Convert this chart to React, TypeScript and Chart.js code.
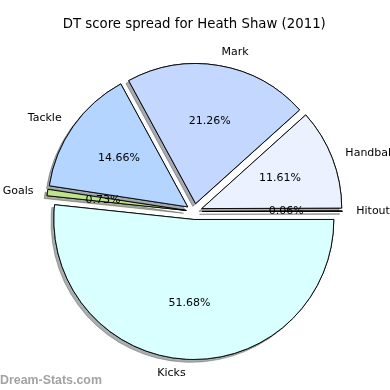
import { useEffect, useRef } from 'react';
import { Chart, registerables } from 'chart.js';

Chart.register(...registerables);

// Slices listed clockwise starting from the east (3 o'clock) direction
const categories = ['Kicks', 'Goals', 'Tackle', 'Mark', 'Handball', 'Hitout'];
const shares = [51.68, 0.73, 14.66, 21.26, 11.61, 0.06];
const sliceColors = ['#d9ffff', '#bfe38a', '#b4d5ff', '#c4d8ff', '#ebf1ff', '#f2f2f2'];
const chartTitle = 'DT score spread for Heath Shaw (2011)';
const watermark = 'Dream-Stats.com';

const EXPLODE = 8;
const SHADOW = 2.8;
const FONT = '"DejaVu Sans", sans-serif';

function shadowOf(hex: string): string {
  const n = parseInt(hex.slice(1), 16);
  const r = Math.round(((n >> 16) & 255) * 0.3);
  const g = Math.round(((n >> 8) & 255) * 0.3);
  const b = Math.round((n & 255) * 0.3);
  return `rgba(${r},${g},${b},0.45)`;
}

const explodePlugin = {
  id: 'explodeShadow',
  beforeDatasetsDraw(chart: any) {
    const ctx = chart.ctx as CanvasRenderingContext2D;
    const arcs = chart.getDatasetMeta(0).data as any[];
    const shift = (arc: any) => {
      const p = arc.getProps(['startAngle', 'endAngle'], true);
      const mid = (p.startAngle + p.endAngle) / 2;
      return [Math.cos(mid) * EXPLODE, Math.sin(mid) * EXPLODE];
    };
    // pass 1: wedges with shadows
    arcs.forEach((arc, i) => {
      const [dx, dy] = shift(arc);
      ctx.save();
      ctx.translate(dx, dy);
      ctx.shadowColor = shadowOf(sliceColors[i]);
      ctx.shadowOffsetX = -SHADOW;
      ctx.shadowOffsetY = SHADOW;
      ctx.shadowBlur = 0;
      arc.draw(ctx);
      ctx.restore();
    });
    // pass 2: wedges on top of all shadows
    arcs.forEach((arc) => {
      const [dx, dy] = shift(arc);
      ctx.save();
      ctx.translate(dx, dy);
      arc.draw(ctx);
      ctx.restore();
    });
    return false;
  },
  afterDraw(chart: any) {
    const ctx = chart.ctx as CanvasRenderingContext2D;
    const arcs = chart.getDatasetMeta(0).data as any[];
    ctx.save();
    ctx.fillStyle = '#000';
    ctx.font = `11px ${FONT}`;
    ctx.textBaseline = 'middle';
    arcs.forEach((arc, i) => {
      const p = arc.getProps(['x', 'y', 'startAngle', 'endAngle', 'outerRadius'], true);
      const mid = (p.startAngle + p.endAngle) / 2;
      const cx = p.x + Math.cos(mid) * EXPLODE;
      const cy = p.y + Math.sin(mid) * EXPLODE;
      const r = p.outerRadius;
      const lx = cx + Math.cos(mid) * r * 1.1;
      const ly = cy + Math.sin(mid) * r * 1.1;
      ctx.textAlign = Math.cos(mid) > 0 ? 'left' : 'right';
      ctx.fillText(categories[i], lx, ly);
      const px = cx + Math.cos(mid) * r * 0.6;
      const py = cy + Math.sin(mid) * r * 0.6;
      ctx.textAlign = 'center';
      ctx.fillText(`${shares[i].toFixed(2)}%`, px, py);
    });
    ctx.fillStyle = '#a3a3a3';
    ctx.font = `bold 12.4px "Liberation Sans", Arial, sans-serif`;
    ctx.textAlign = 'left';
    ctx.textBaseline = 'alphabetic';
    ctx.fillText(watermark, 0, 384);
    ctx.restore();
  },
};

export default function App() {
  const ref = useRef<HTMLCanvasElement | null>(null);
  useEffect(() => {
    if (!ref.current) return;
    const chart = new Chart(ref.current, {
      type: 'pie',
      data: {
        labels: categories,
        datasets: [
          {
            data: shares,
            backgroundColor: sliceColors,
            borderColor: '#000',
            borderWidth: 0.9,
            borderJoinStyle: 'miter',
          },
        ],
      },
      options: {
        animation: false,
        responsive: false,
        devicePixelRatio: 1,
        events: [],
        rotation: 90,
        radius: 140,
        layout: { padding: { left: 0, right: 1.5, top: 0, bottom: 0 } },
        plugins: {
          legend: { display: false },
          tooltip: { enabled: false },
          title: {
            display: true,
            text: chartTitle,
            color: '#000',
            font: { family: FONT, size: 13.3, weight: 'normal' },
            padding: { top: 17, bottom: 0 },
          },
        },
      } as any,
      plugins: [explodePlugin],
    });
    return () => chart.destroy();
  }, []);
  return (
    <div style={{ position: 'absolute', left: 0, top: 0, width: 390, height: 390, background: '#fff' }}>
      <canvas ref={ref} width={390} height={390} style={{ display: 'block' }} />
    </div>
  );
}
